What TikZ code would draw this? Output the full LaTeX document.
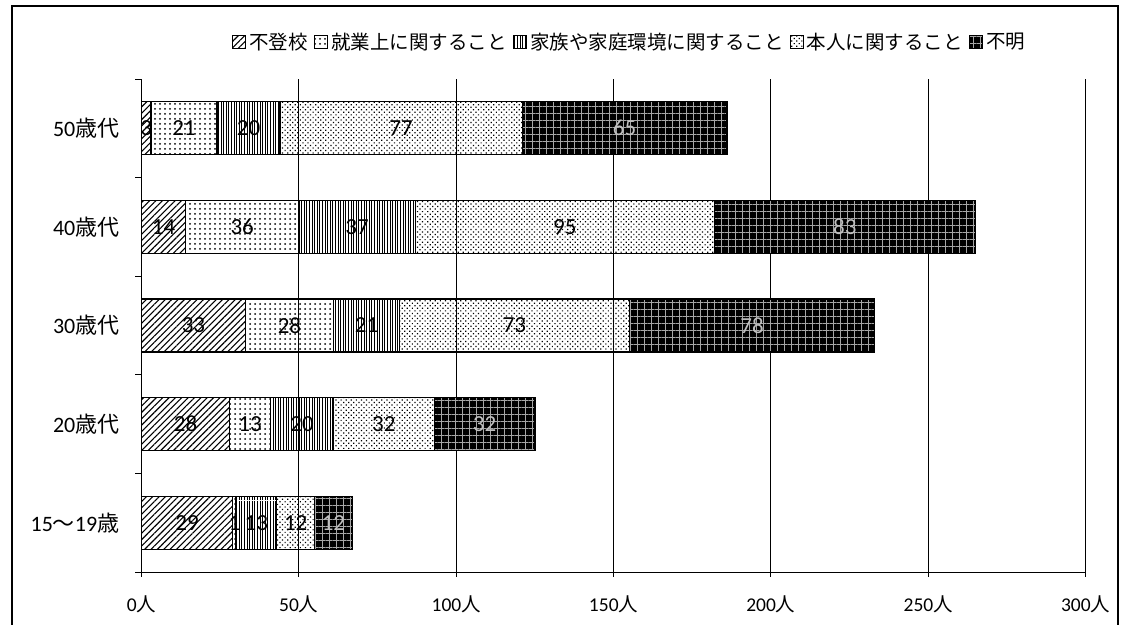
\documentclass[tikz,border=0pt]{standalone}
\usepackage{fontspec}
\setmainfont{Carlito}
\newfontfamily\jp{Noto Sans CJK JP}
\usetikzlibrary{patterns.meta,positioning}

\tikzset{
  seg/.style={draw=black, line width=1.3pt},
  kind1/.style={pattern={Lines[angle=45,distance=4.5pt,line width=1.1pt]}},
  kind2/.style={pattern={Dots[distance=5pt,radius=1pt]}},
  kind3/.style={pattern={Lines[angle=90,distance=2.6pt,line width=1pt]}},
  kind4/.style={pattern={Dots[angle=45,distance=3.6pt,radius=0.85pt]}},
  kind5/.style={preaction={fill=black}, pattern={Hatch[angle=0,distance=7pt,line width=0.7pt]}, pattern color=white!65!black},
  lbl/.style={font=\fontsize{19.5}{20}\selectfont, inner sep=0pt},
  cat/.style={font=\fontsize{22}{22}\selectfont, inner sep=0pt},
  val/.style={font=\fontsize{23}{23}\selectfont, inner sep=0pt},
  val5/.style={val, text=white!75!black},
  legbox/.style={draw=black, line width=1pt, minimum size=13pt, inner sep=0pt},
  gridline/.style={line width=0.9pt},
}

\begin{document}
\begin{tikzpicture}[x=1pt,y=-1pt]
\useasboundingbox (0,0) rectangle (1124,624);
% frame
\draw[line width=1.2pt] (12,640) -- (12,6) -- (1118,6) -- (1118,640);

% legend
\node[legbox, kind1] (lb1) at (239,42) {};
\node[lbl, right=3pt of lb1] (lt1) {\jp 不登校};
\node[legbox, kind2, right=6pt of lt1] (lb2) {};
\node[lbl, right=3pt of lb2] (lt2) {\jp 就業上に関すること};
\node[legbox, kind3, right=6pt of lt2] (lb3) {};
\node[lbl, right=3pt of lb3] (lt3) {\jp 家族や家庭環境に関すること};
\node[legbox, kind4, right=6pt of lt3] (lb4) {};
\node[lbl, right=3pt of lb4] (lt4) {\jp 本人に関すること};
\node[legbox, kind5, right=6pt of lt4] (lb5) {};
\node[lbl, right=3pt of lb5] (lt5) {\jp 不明};

\begin{scope}[xshift=141.5pt, x=3.147pt]
% grid and axes
\foreach \k in {50,100,...,300}
  \draw[gridline] (\k,79) -- (\k,572);
\draw[gridline] (0,79) -- (0,572) -- (300,572);
\foreach \k in {0,50,...,300} {
  \draw[gridline] (\k,572) -- (\k,577);
  \node[lbl] (ax\k) at (\k,604) {\k\jp 人};
}
\foreach \k in {0,...,5} {
  \pgfmathsetmacro\yy{79+98.6*\k}
  \draw[gridline] (-2,\yy) -- (0,\yy);
}

% bars
\foreach \r/\cat/\vals in {1/{50{\jp 歳代}}/{3,21,20,77,65},
                           2/{40{\jp 歳代}}/{14,36,37,95,83},
                           3/{30{\jp 歳代}}/{33,28,21,73,78},
                           4/{20{\jp 歳代}}/{28,13,20,32,32},
                           5/{15{\jp ～}19{\jp 歳}}/{29,1,13,12,12}} {
  \pgfmathsetmacro\yc{79+98.6*(\r-0.5)}
  \coordinate (b\r) at (0,\yc);
  \node[cat, left=22pt of b\r] (cat\r) {\cat};
  \xdef\acc{0}
  \foreach \v [count=\j] in \vals {
    \pgfmathsetmacro\s{\acc}
    \pgfmathsetmacro\e{\acc+\v}
    \xdef\acc{\e}
    \draw[seg, kind\j] (\s,\yc-26.5) rectangle (\e,\yc+26.5);
    \ifnum\j=5
      \node[val5] (v\r-\j) at ({(\s+\e)/2},\yc) {\v};
    \else
      \node[val] (v\r-\j) at ({(\s+\e)/2},\yc) {\v};
    \fi
  }
}
\end{scope}
\end{tikzpicture}
\end{document}
